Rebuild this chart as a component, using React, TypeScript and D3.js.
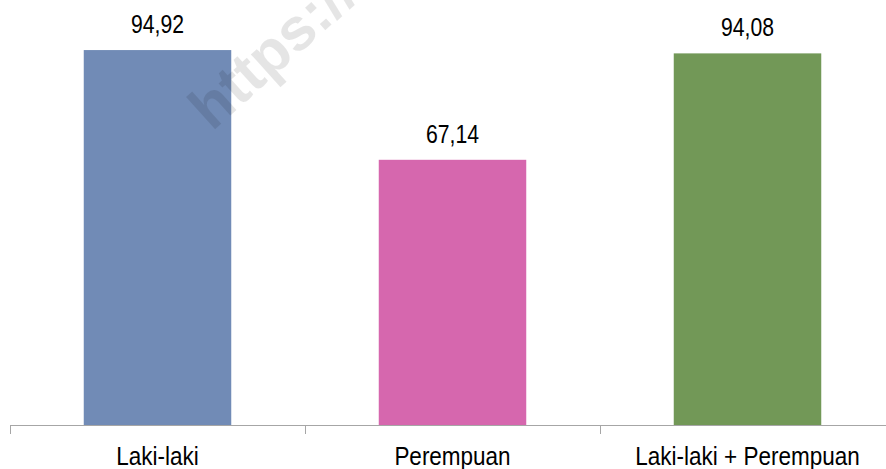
import { useEffect, useRef } from 'react';
import * as d3 from 'd3';

const categories = ['Laki-laki', 'Perempuan', 'Laki-laki + Perempuan'];
const values = [94.92, 67.14, 94.08];
const valueLabels = ['94,92', '67,14', '94,08'];
const colors = ['#718bb6', '#d667ae', '#729857'];

const W = 886;
const H = 469;
const FONT = '"Liberation Sans", Arial, sans-serif';

export default function App() {
  const ref = useRef<SVGSVGElement>(null);

  useEffect(() => {
    if (!ref.current) return;
    const svg = d3.select(ref.current);
    svg.selectAll('*').remove();

    const x = d3.scaleBand<string>().domain(categories).range([10, 895]).paddingInner(0.5).paddingOuter(0.25);
    const y = d3.scaleLinear().domain([0, 100]).range([425, 30]);

    // bars
    svg.append('g')
      .selectAll('rect')
      .data(categories)
      .join('rect')
      .attr('x', d => x(d)!)
      .attr('y', (_, i) => y(values[i]))
      .attr('width', x.bandwidth())
      .attr('height', (_, i) => y(0) - y(values[i]))
      .attr('fill', (_, i) => colors[i]);

    // value labels (narrow look)
    svg.append('g')
      .selectAll('text')
      .data(categories)
      .join('text')
      .attr('transform', (d, i) => `translate(${x(d)! + x.bandwidth() / 2},${y(values[i]) - 17}) scale(0.8,1)`)
      .attr('text-anchor', 'middle')
      .attr('font-family', FONT)
      .attr('font-size', 26.5)
      .attr('fill', '#000')
      .text((_, i) => valueLabels[i]);

    // axis line + ticks between categories
    const axis = svg.append('g').attr('stroke', '#a6a6a6').attr('stroke-width', 1);
    axis.append('line')
      .attr('x1', 10).attr('x2', W).attr('y1', y(0) + 0.5).attr('y2', y(0) + 0.5);
    const step = x.step();
    d3.range(0, categories.length + 1).forEach(i => {
      const tx = Math.round(10 + i * step) + 0.5;
      axis.append('line')
        .attr('x1', tx).attr('x2', tx).attr('y1', y(0)).attr('y2', y(0) + 9);
    });

    // category labels
    svg.append('g')
      .selectAll('text')
      .data(categories)
      .join('text')
      .attr('transform', d => `translate(${x(d)! + x.bandwidth() / 2},465) scale(0.9,1)`)
      .attr('text-anchor', 'middle')
      .attr('font-family', FONT)
      .attr('font-size', 25)
      .attr('fill', '#000')
      .text(d => d);

    // faint watermark
    svg.append('text')
      .attr('transform', 'translate(212,132) rotate(-42)')
      .attr('font-family', FONT)
      .attr('font-weight', 700)
      .attr('font-size', 60)
      .attr('fill', '#000')
      .attr('fill-opacity', 0.1)
      .text('https://');
  }, []);

  return (
    <svg
      ref={ref}
      width={W}
      height={H}
      style={{ display: 'block', position: 'absolute', left: 0, top: 0, background: '#fff' }}
    />
  );
}
